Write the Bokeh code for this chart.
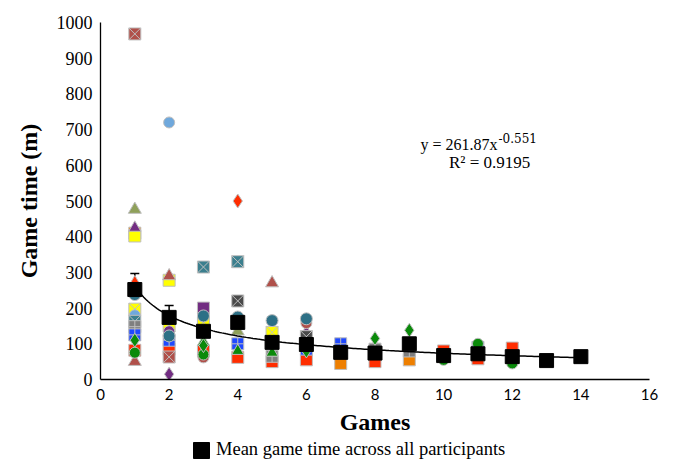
from bokeh.plotting import figure
from bokeh.layouts import column
from bokeh.models import (Range1d, ColumnDataSource, Legend, LegendItem, Label,
                          Whisker, TeeHead, FixedTicker)
from bokeh.embed import file_html
from bokeh.resources import INLINE

# ---------------- data ----------------
games = [1, 2, 3, 4, 5, 6, 7, 8, 9, 10, 11, 12, 13, 14]
mean_time = [252, 174, 135, 160, 104, 98, 76, 74, 100, 67, 72, 64, 53, 64]
err_games = [1, 2]
err_upper = [45, 33]

fit_a = 261.87
fit_b = -0.551

red_sq_x = [1, 2, 3, 4, 5, 6, 8, 10, 11, 12]
red_sq_y = [82, 85, 80, 62, 50, 55, 50, 80, 58, 88]
orange_sq_x = [1, 7, 9]
orange_sq_y = [410, 45, 55]
yellow_sq_x = [1, 2]
yellow_sq_y = [402, 278]
yellow_sqx_x = [1, 2, 3, 5]
yellow_sqx_y = [197, 150, 160, 132]
olive_tri_x = [1, 4]
olive_tri_y = [476, 135]
purple_tri_x = [1, 6]
purple_tri_y = [425, 132]
brown_tri_x = [1, 2, 5]
brown_tri_y = [50, 290, 270]
red_tri_x = [1]
red_tri_y = [272]
teal_circ_x = [1, 2, 3, 4, 5, 6]
teal_circ_y = [238, 122, 178, 175, 165, 170]
lblue_circ_x = [1, 2]
lblue_circ_y = [180, 720]
teal_sqx_x = [1, 3, 4]
teal_sqx_y = [163, 315, 330]
grey_sqp_x = [1, 5, 8, 9]
grey_sqp_y = [148, 65, 85, 80]
dgrey_sqx_x = [4, 6]
dgrey_sqx_y = [220, 120]
blue_sqp_x = [1, 2, 4, 6, 7, 11, 12]
blue_sqp_y = [125, 110, 100, 85, 100, 90, 62]
green_dia_x = [1, 3, 6, 8, 9]
green_dia_y = [110, 95, 80, 115, 138]
green_tri_x = [3, 4, 5]
green_tri_y = [105, 80, 75]
green_circ_x = [1, 3, 10, 11, 12]
green_circ_y = [75, 70, 55, 100, 45]
purple_sq_x = [3]
purple_sq_y = [200]
purple_dia_x = [2]
purple_dia_y = [15]
purple_circ_x = [2]
purple_circ_y = [135]
red_dia_x = [4]
red_dia_y = [500]
brown_sqx_x = [1, 2]
brown_sqx_y = [968, 63]
brown_circ_x = [2, 3, 6]
brown_circ_y = [130, 62, 158]

x_ticks = [0, 2, 4, 6, 8, 10, 12, 14, 16]
y_ticks = [0, 100, 200, 300, 400, 500, 600, 700, 800, 900, 1000]

# ---------------- main figure ----------------
p = figure(width=674, height=439, output_backend="svg", toolbar_location=None,
           x_range=Range1d(0, 16), y_range=Range1d(0, 1000),
           min_border_left=100, min_border_right=25, min_border_top=22,
           min_border_bottom=60)
p.outline_line_color = None
p.xgrid.grid_line_color = None
p.ygrid.grid_line_color = None
p.background_fill_color = "white"

RED = "#FF2D00"; ORANGE = "#EE7F00"; YELLOW = "#FFFF00"; OLIVE = "#8FA05A"
PURPLE = "#722D82"; BROWN = "#B0504A"; TEAL = "#2D7086"; LBLUE = "#6FA8DC"
TEAL2 = "#3B7F8E"; GREY = "#7F7F7F"; DGREY = "#4A4A4A"; BLUE = "#1F49FF"
GREEN = "#0A8A0A"
OUT = "#BFBFBF"

series = [
    (red_sq_x, red_sq_y, "square", RED, 12),
    (orange_sq_x, orange_sq_y, "square", ORANGE, 12),
    (yellow_sq_x, yellow_sq_y, "square", YELLOW, 12),
    (purple_tri_x, purple_tri_y, "triangle", PURPLE, 12),
    (yellow_sqx_x, yellow_sqx_y, "square_x", YELLOW, 12),
    (olive_tri_x, olive_tri_y, "triangle", OLIVE, 13),
    (brown_tri_x, brown_tri_y, "triangle", BROWN, 13),
    (red_tri_x, red_tri_y, "triangle", RED, 12),
    (brown_circ_x, brown_circ_y, "circle", BROWN, 11),
    (lblue_circ_x, lblue_circ_y, "circle", LBLUE, 11),
    (teal_sqx_x, teal_sqx_y, "square_x", TEAL2, 12),
    (grey_sqp_x, grey_sqp_y, "square_cross", GREY, 12),
    (dgrey_sqx_x, dgrey_sqx_y, "square_x", DGREY, 12),
    (blue_sqp_x, blue_sqp_y, "square_cross", BLUE, 12),
    (green_circ_x, green_circ_y, "circle", GREEN, 11),
    (green_tri_x, green_tri_y, "triangle", GREEN, 12),
    (green_dia_x, green_dia_y, "diamond", GREEN, 14),
    (purple_sq_x, purple_sq_y, "square", PURPLE, 12),
    (purple_circ_x, purple_circ_y, "circle", PURPLE, 11),
    (purple_dia_x, purple_dia_y, "diamond", PURPLE, 14),
    (red_dia_x, red_dia_y, "diamond", RED, 14),
    (teal_circ_x, teal_circ_y, "circle", TEAL, 12),
    (brown_sqx_x, brown_sqx_y, "square_x", BROWN, 12),
]
for xs, ys, mk, col, sz in series:
    p.scatter(xs, ys, marker=mk, size=sz, fill_color=col, line_color=OUT,
              line_width=1)

# power trend line from the chart's fitted equation
fx = [1 + i * 13 / 200 for i in range(201)]
fy = [fit_a * v ** fit_b for v in fx]
p.line(fx, fy, line_color="black", line_width=1.5)

# error bars (upper)
esrc = ColumnDataSource(dict(
    x=err_games,
    lo=[mean_time[g - 1] for g in err_games],
    hi=[mean_time[g - 1] + u for g, u in zip(err_games, err_upper)]))
p.add_layout(Whisker(source=esrc, base="x", lower="lo", upper="hi",
                     line_color="black", line_width=1.5,
                     upper_head=TeeHead(size=9, line_color="black", line_width=1.5),
                     lower_head=None))

p.rect(x=games, y=mean_time, width=14, height=14,
       width_units="screen", height_units="screen",
       fill_color="black", line_color="black")

# equation
p.add_layout(Label(x=11.57, y=658, text="y = 261.87x", text_align="right",
                   text_baseline="alphabetic", text_font="Liberation Serif",
                   text_font_size="16px", text_color="black"))
p.add_layout(Label(x=11.60, y=676, text="-0.551", text_align="left",
                   text_baseline="alphabetic", text_font="DejaVu Serif",
                   text_font_size="12px", text_color="black"))
p.add_layout(Label(x=11.34, y=608, text="R\u00b2 = 0.9195", text_align="center",
                   text_baseline="alphabetic", text_font="Liberation Serif",
                   text_font_size="17px", text_color="black"))

# axes
p.xaxis.ticker = FixedTicker(ticks=x_ticks)
p.yaxis.ticker = FixedTicker(ticks=y_ticks)
for ax in (p.xaxis[0], p.yaxis[0]):
    ax.major_tick_out = 0
    ax.major_tick_in = 0
    ax.minor_tick_out = 0
    ax.minor_tick_in = 0
    ax.axis_line_color = "black"
    ax.axis_line_width = 1.3
    ax.major_label_text_color = "black"
    ax.axis_label_text_color = "black"
    ax.axis_label_text_font = "Liberation Serif"
    ax.axis_label_text_font_style = "bold"
    ax.axis_label_text_font_size = "24px"

p.xaxis.axis_label = "Games"
p.xaxis.major_label_text_font = "Lato"
p.xaxis.major_label_text_font_size = "15px"
p.xaxis.major_label_standoff = 9
p.xaxis.axis_label_standoff = 6

p.yaxis.axis_label = "Game time (m)"
p.yaxis.major_label_text_font = "Liberation Serif"
p.yaxis.major_label_text_font_size = "18px"
p.yaxis.major_label_standoff = 8
p.yaxis.axis_label_standoff = 12

# ---------------- legend strip ----------------
q = figure(width=674, height=22, output_backend="svg", toolbar_location=None,
           x_range=Range1d(0, 16), y_range=Range1d(0, 1000),
           min_border=0)
q.axis.visible = False
q.grid.visible = False
q.outline_line_color = None
key_r = q.rect(x=games, y=mean_time, width=14, height=14,
               width_units="screen", height_units="screen",
               fill_color="black", line_color="black")
key_r.visible = False
legend = Legend(items=[LegendItem(label="Mean game time across all participants",
                                  renderers=[key_r])],
                location=(91, 1), orientation="horizontal",
                border_line_color=None, background_fill_alpha=0,
                margin=0, padding=0, glyph_width=20, glyph_height=20,
                label_standoff=5, label_text_font="Liberation Serif",
                label_text_font_size="18.5px", label_text_color="black",
                label_height=20)
q.add_layout(legend, "center")

open("out.html", "w").write(file_html(column(p, q, spacing=0), INLINE))
